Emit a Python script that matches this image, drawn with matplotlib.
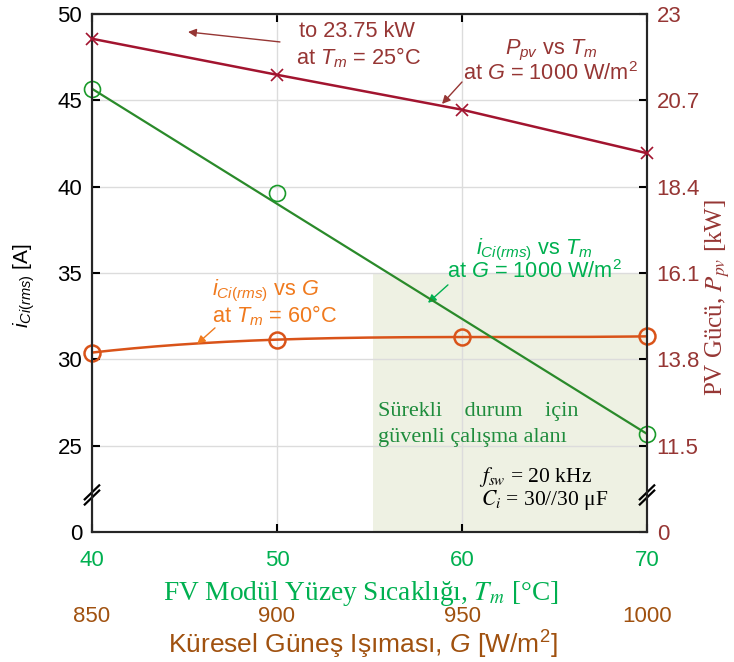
import numpy as np
import matplotlib
matplotlib.use("Agg")
import matplotlib.pyplot as plt

plt.rcParams['font.family'] = ['Liberation Sans', 'DejaVu Sans']
plt.rcParams['mathtext.fontset'] = 'custom'
plt.rcParams['mathtext.rm'] = 'Liberation Sans'
plt.rcParams['mathtext.it'] = 'Liberation Sans:italic'
plt.rcParams['mathtext.bf'] = 'Liberation Sans:bold'

# ---- data ----
tm_ticks = [40, 50, 60, 70]
g_ticks = [850, 900, 950, 1000]

# capacitor rms current vs module temperature (G = 1000 W/m2)
tm_icap = [40, 50, 70]
icap_vs_tm = [45.67, 39.62, 25.68]

# capacitor rms current vs irradiance (Tm = 60 C)
g_icap = [850, 900, 950, 1000]
icap_vs_g = [30.39, 31.14, 31.29, 31.33]

# PV power vs module temperature (G = 1000 W/m2)
tm_ppv = [40, 50, 60, 70]
ppv_vs_tm = [22.34, 21.38, 20.45, 19.29]

left_ticks = [20, 25, 30, 35, 40, 45, 50]
left_labels = ['0', '25', '30', '35', '40', '45', '50']
right_ticks = [9.2, 11.5, 13.8, 16.1, 18.4, 20.7, 23.0]
right_labels = ['0', '11.5', '13.8', '16.1', '18.4', '20.7', '23']

safe_tm_start = 55.2
safe_i_top = 35

# ---- colours ----
c_red_line = '#A2142F'
c_red_txt = '#963634'
c_green_line = '#2A8A2A'
c_green_txt = '#00B050'
c_green_area_txt = '#1E8C3C'
c_orange_line = '#D95319'
c_orange_txt = '#F07A1E'
c_brown = '#A0510F'

TICK_FS = 16
NOTE_FS = 15.7


def t2g(t):
    return 850 + 5 * (np.asarray(t, dtype=float) - 40)


def g2t(g):
    return 40 + (np.asarray(g, dtype=float) - 850) / 5


fig = plt.figure(figsize=(7.34, 6.62), dpi=100)
ax = fig.add_axes([0.1253, 0.1964, 0.7562, 0.7825])
ax.set_xlim(40, 70)
ax.set_ylim(20, 50)

# safe operating area
ax.fill_between([safe_tm_start, 70], 20, safe_i_top, color='#EEF1E3', lw=0, zorder=0.2)

ax.grid(True, color='#DCDCDC', lw=1.0, zorder=0.5)
ax.set_axisbelow(True)

ax.set_xticks(tm_ticks)
ax.set_xticklabels([str(t) for t in tm_ticks])
ax.set_yticks(left_ticks)
ax.set_yticklabels(left_labels)
ax.tick_params(axis='x', direction='in', length=6, width=1.5, top=True,
               labelsize=TICK_FS, labelcolor=c_green_txt, pad=13)
ax.tick_params(axis='y', direction='in', length=6, width=1.5, labelsize=TICK_FS,
               labelcolor='black', pad=7)
for s in ax.spines.values():
    s.set_linewidth(1.5)
    s.set_color('#262626')

# green: current vs temperature
ax.plot([tm_icap[0], tm_icap[-1]], [icap_vs_tm[0], icap_vs_tm[-1]],
        color=c_green_line, lw=1.6, zorder=4)
ax.plot(tm_icap, icap_vs_tm, ls='none', marker='o', ms=11.5, mfc='none',
        mec='#1A9A2A', mew=1.2, zorder=5, clip_on=False)

# orange: current vs irradiance (cubic trend through the samples)
coef = np.polyfit(g_icap, icap_vs_g, 3)
g_fine = np.linspace(g_icap[0], g_icap[-1], 200)
ax.plot(g2t(g_fine), np.polyval(coef, g_fine), color=c_orange_line, lw=1.8, zorder=3)
ax.plot(g2t(g_icap), icap_vs_g, ls='none', marker='o', ms=11.5, mfc='none',
        mec=c_orange_line, mew=1.8, zorder=3.5, clip_on=False)

ax.set_ylabel(r'$i_{Ci(rms)}$ [A]', fontsize=15)
ax.yaxis.set_label_coords(-0.099, 0.475)
ax.set_xlabel(r'FV Modül Yüzey Sıcaklığı, $T_m$ [°C]', fontsize=19.7,
              family='Liberation Serif', math_fontfamily='stix',
              color=c_green_txt)
ax.xaxis.set_label_coords(0.4847, -0.090)

# secondary (irradiance) axis below
sec = ax.secondary_xaxis(-0.141, functions=(t2g, g2t))
sec.set_xticks(g_ticks)
sec.set_xticklabels([str(g) for g in g_ticks])
sec.tick_params(axis='x', length=0, labelsize=TICK_FS, labelcolor=c_brown, pad=1)
sec.spines['bottom'].set_visible(False)
sec.set_xlabel(r'Küresel Güneş Işıması, $G$ [W/m$^2$]', fontsize=19,
               color=c_brown)
sec.xaxis.set_label_coords(0.488, -0.186, transform=ax.transAxes)

# right axis: PV power
ax2 = ax.twinx()
ax2.set_ylim(right_ticks[0], right_ticks[-1])
ax2.set_yticks(right_ticks)
ax2.set_yticklabels(right_labels)
ax2.tick_params(axis='y', direction='in', length=6, width=1.5, labelsize=TICK_FS,
                labelcolor=c_red_txt, pad=7)
for s in ax2.spines.values():
    s.set_linewidth(1.5)
    s.set_color('#262626')
ax2.plot(tm_ppv, ppv_vs_tm, color=c_red_line, lw=1.8, marker='x', ms=9,
         mew=1.2, clip_on=False, zorder=4)
ax2.set_ylabel(r'PV Gücü, $P_{pv}$ [kW]', fontsize=18, family='Liberation Serif',
               math_fontfamily='stix', color=c_red_txt)
ax2.yaxis.set_label_coords(1.101, 0.452, transform=ax.transAxes)

# axis break marks
for xa in (0.0, 1.0):
    for dy in (-0.005, 0.005):
        ax.plot([xa - 0.013, xa + 0.013], [0.058 + dy, 0.085 + dy],
                transform=ax.transAxes, color='black', lw=1.6,
                clip_on=False, zorder=10)

# annotations
arrow_kw = dict(arrowstyle='-|>', lw=1.0, mutation_scale=12, shrinkA=0, shrinkB=0)

ax.annotate('', xy=(45.19, 48.96), xytext=(50.16, 48.38),
            arrowprops=dict(color=c_red_txt, **arrow_kw))
ax.text(54.3, 48.96, 'to 23.75 kW', color=c_red_txt, fontsize=NOTE_FS,
        ha='center', va='center')
ax.text(54.4, 47.45, r'at $T_m$ = 25°C', color=c_red_txt, fontsize=NOTE_FS,
        ha='center', va='center')

ax.annotate('', xy=(58.92, 44.79), xytext=(60.0, 46.06),
            arrowprops=dict(color=c_red_txt, **arrow_kw))
ax.text(64.8, 47.86, r'$P_{pv}$ vs $T_m$', color=c_red_txt, fontsize=NOTE_FS,
        ha='center', va='center')
ax.text(64.8, 46.55, r'at $G$ = 1000 W/m$^2$', color=c_red_txt, fontsize=NOTE_FS,
        ha='center', va='center')

ax.annotate('', xy=(58.16, 33.27), xytext=(59.24, 34.31),
            arrowprops=dict(color=c_green_txt, **arrow_kw))
ax.text(63.9, 36.33, r'$i_{Ci(rms)}$ vs $T_m$', color=c_green_txt, fontsize=NOTE_FS,
        ha='center', va='center')
ax.text(63.9, 35.06, r'at $G$ = 1000 W/m$^2$', color=c_green_txt, fontsize=NOTE_FS,
        ha='center', va='center')

ax.annotate('', xy=(45.68, 30.89), xytext=(46.65, 31.82),
            arrowprops=dict(color=c_orange_txt, **arrow_kw))
ax.text(46.5, 33.95, r'$i_{Ci(rms)}$ vs $G$', color=c_orange_txt, fontsize=NOTE_FS,
        ha='left', va='center')
ax.text(46.5, 32.51, r'at $T_m$ = 60°C', color=c_orange_txt, fontsize=NOTE_FS,
        ha='left', va='center')

ax.text(55.45, 26.95, 'Sürekli    durum    için', color=c_green_area_txt,
        fontsize=16, family='Liberation Serif', ha='left', va='center')
ax.text(55.45, 25.5, 'güvenli çalışma alanı', color=c_green_area_txt,
        fontsize=16, family='Liberation Serif', ha='left', va='center')

ax.text(63.95, 23.19, r'$f_{sw}$ = 20 kHz', color='black', fontsize=15.5,
        family='Liberation Serif', math_fontfamily='stix', ha='center', va='center')
ax.text(64.45, 21.86, r'$C_i$ = 30//30 μF', color='black', fontsize=15.5,
        family='Liberation Serif', math_fontfamily='stix', ha='center', va='center')

fig.savefig('out.png', dpi=100)
